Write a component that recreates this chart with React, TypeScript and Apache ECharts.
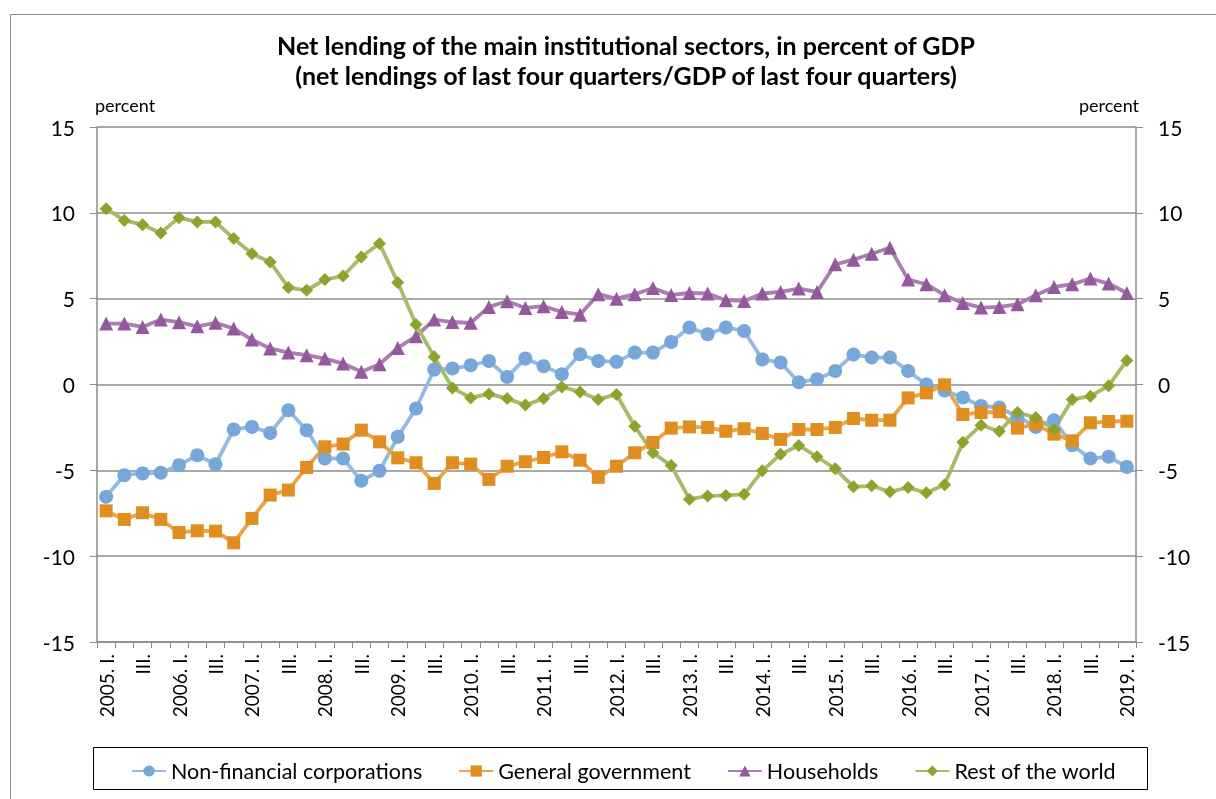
import React, { useEffect, useRef } from "react";
import * as echarts from "echarts";

const years = [2005, 2006, 2007, 2008, 2009, 2010, 2011, 2012, 2013, 2014, 2015, 2016, 2017, 2018, 2019];
const quarterNames = ["I.", "II.", "III.", "IV."];
const categories: string[] = [];
years.forEach((y) => {
  quarterNames.forEach((q, qi) => {
    if (y === 2019 && qi > 0) return;
    categories.push(qi === 0 ? `${y}. ${q}` : q);
  });
});

const nonFinancial = [
  -6.54, -5.28, -5.18, -5.14, -4.7, -4.12, -4.64, -2.62, -2.47, -2.82,
  -1.5, -2.66, -4.31, -4.31, -5.61, -5.03, -3.05, -1.4, 0.87, 0.93,
  1.12, 1.37, 0.44, 1.51, 1.07, 0.6, 1.76, 1.37, 1.32, 1.86,
  1.86, 2.48, 3.32, 2.93, 3.32, 3.12, 1.46, 1.28, 0.13, 0.31,
  0.79, 1.75, 1.57, 1.57, 0.79, 0.0, -0.35, -0.76, -1.25, -1.34,
  -1.88, -2.47, -2.08, -3.53, -4.31, -4.21, -4.8,
];
const government = [
  -7.36, -7.86, -7.47, -7.86, -8.62, -8.52, -8.54, -9.22, -7.8, -6.44,
  -6.15, -4.83, -3.63, -3.47, -2.66, -3.34, -4.27, -4.56, -5.76, -4.56,
  -4.64, -5.53, -4.76, -4.5, -4.25, -3.92, -4.41, -5.41, -4.76, -3.98,
  -3.38, -2.54, -2.47, -2.5, -2.72, -2.58, -2.85, -3.2, -2.62, -2.62,
  -2.5, -1.98, -2.08, -2.08, -0.78, -0.49, -0.02, -1.75, -1.63, -1.59,
  -2.54, -2.31, -2.89, -3.28, -2.23, -2.15, -2.14,
];
const households = [
  3.55, 3.55, 3.35, 3.78, 3.63, 3.39, 3.59, 3.26, 2.62, 2.1,
  1.86, 1.71, 1.51, 1.22, 0.74, 1.18, 2.13, 2.81, 3.78, 3.64,
  3.59, 4.52, 4.85, 4.46, 4.56, 4.23, 4.07, 5.26, 5.0, 5.26,
  5.62, 5.22, 5.33, 5.3, 4.91, 4.87, 5.3, 5.39, 5.59, 5.39,
  7.0, 7.27, 7.62, 7.97, 6.11, 5.84, 5.2, 4.75, 4.48, 4.52,
  4.67, 5.2, 5.68, 5.84, 6.17, 5.88, 5.33,
];
const restOfWorld = [
  10.24, 9.56, 9.31, 8.83, 9.72, 9.47, 9.47, 8.5, 7.62, 7.14,
  5.65, 5.49, 6.11, 6.32, 7.43, 8.21, 5.94, 3.49, 1.61, -0.2,
  -0.78, -0.55, -0.82, -1.2, -0.82, -0.14, -0.43, -0.87, -0.58, -2.43,
  -3.98, -4.72, -6.68, -6.5, -6.46, -6.4, -5.03, -4.07, -3.55, -4.21,
  -4.91, -5.96, -5.9, -6.25, -6.0, -6.31, -5.84, -3.36, -2.37, -2.72,
  -1.63, -1.92, -2.62, -0.87, -0.68, -0.08, 1.4,
];

const seriesNames = ["Non-financial corporations", "General government", "Households", "Rest of the world"];
const yTicks = { min: -15, max: 15, interval: 5 };

const FONT = "Lato";

export default function App() {
  const ref = useRef<HTMLDivElement>(null);
  useEffect(() => {
    if (!ref.current) return;
    const chart = echarts.init(ref.current, null, { renderer: "svg" });
    const mk = (
      name: string,
      data: number[],
      lineColor: string,
      markColor: string,
      symbol: string,
      size: number
    ) => ({
      name,
      type: "line",
      data,
      symbol,
      symbolSize: size,
      showAllSymbol: true,
      lineStyle: { color: lineColor, width: 3.8 },
      itemStyle: { color: markColor },
      emphasis: { disabled: true },
    });
    chart.setOption({
      animation: false,
      textStyle: { fontFamily: FONT },
      title: {
        text: "Net lending of the main institutional sectors, in percent of GDP\n(net lendings of last four quarters/GDP of last four quarters)",
        left: 621,
        top: 25,
        textAlign: "center",
        textStyle: { fontFamily: FONT, fontWeight: "bold", fontSize: 25, lineHeight: 30, color: "#000" },
      },
      grid: { left: 97, right: 80, top: 127, bottom: 157 },
      legend: {
        left: 126,
        top: 755,
        itemWidth: 34,
        itemHeight: 14,
        itemGap: 36,
        textStyle: { fontFamily: FONT, fontSize: 21.5, color: "#000" },
        data: seriesNames,
      },
      graphic: [
        { type: "rect", shape: { x: 10.5, y: 14.5, width: 1230, height: 820 }, style: { fill: "none", stroke: "#8c8c8c", lineWidth: 1 }, silent: true },
        { type: "rect", shape: { x: 93.5, y: 747.5, width: 1054, height: 42 }, style: { fill: "none", stroke: "#000", lineWidth: 1 }, silent: true },
        { type: "text", left: 95, top: 96, style: { text: "percent", fontFamily: FONT, fontSize: 18, fill: "#000" } },
        { type: "text", right: 1216 - 1139, top: 96, style: { text: "percent", fontFamily: FONT, fontSize: 18, fill: "#000" } },
      ],
      xAxis: {
        type: "category",
        data: categories,
        boundaryGap: true,
        axisLine: { onZero: false, lineStyle: { color: "#8c8c8c", width: 1.5 } },
        axisTick: { show: true, interval: 0, length: 6, lineStyle: { color: "#8c8c8c" } },
        axisLabel: { interval: 1, rotate: 90, fontSize: 19, color: "#000", fontFamily: FONT, margin: 12 },
        splitLine: { show: false },
      },
      yAxis: [
        {
          type: "value",
          ...yTicks,
          position: "left",
          axisLine: { show: true, lineStyle: { color: "#8c8c8c", width: 1.5 } },
          axisTick: { show: true, length: 7, lineStyle: { color: "#8c8c8c" } },
          axisLabel: { fontSize: 21, color: "#000", fontFamily: FONT, margin: 22 },
          splitLine: { show: true, lineStyle: { color: "#8c8c8c", width: 1.5 } },
        },
        {
          type: "value",
          ...yTicks,
          position: "right",
          axisLine: { show: true, lineStyle: { color: "#8c8c8c", width: 1.5 } },
          axisTick: { show: true, length: 7, lineStyle: { color: "#8c8c8c" } },
          axisLabel: { fontSize: 21, color: "#000", fontFamily: FONT, margin: 22 },
          splitLine: { show: false },
        },
      ],
      series: [
        mk(seriesNames[0], nonFinancial, "#94b9e2", "#77a6d9", "circle", 14),
        mk(seriesNames[1], government, "#e9a54c", "#df8e1f", "rect", 13),
        mk(seriesNames[2], households, "#aa7db3", "#93589e", "triangle", 14),
        mk(seriesNames[3], restOfWorld, "#a7ba6a", "#8ca42b", "diamond", 13),
      ],
    });
    return () => chart.dispose();
  }, []);
  return <div ref={ref} style={{ position: "fixed", left: 0, top: 0, width: 1216, height: 799 }} />;
}
